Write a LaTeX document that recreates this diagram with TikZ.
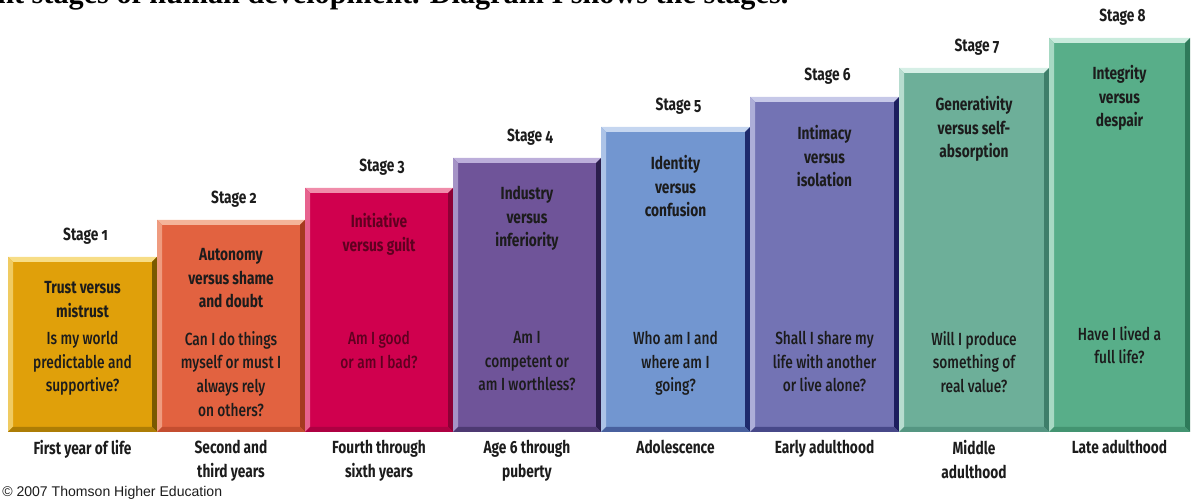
\documentclass[tikz,border=0pt]{standalone}
\usepackage{fontspec}
\setmainfont{Fira Sans}[FakeStretch=0.78, Numbers=OldStyle]
\newfontfamily\askfont{Fira Sans Medium}[FakeStretch=0.78]
\newfontfamily\introfont{Liberation Serif}
\newfontfamily\creditfont{Liberation Sans}
\usepackage{xcolor}
% bar colours: face, top/left bevel, right bevel
\definecolor{bar1}{RGB}{224, 160, 10}
\definecolor{bar1top}{RGB}{247, 221, 134}
\definecolor{bar1side}{RGB}{122, 90, 0}
\definecolor{bar2}{RGB}{226, 98, 64}
\definecolor{bar2top}{RGB}{244, 180, 154}
\definecolor{bar2side}{RGB}{165, 58, 32}
\definecolor{bar3}{RGB}{208, 0, 78}
\definecolor{bar3top}{RGB}{240, 140, 170}
\definecolor{bar3side}{RGB}{140, 0, 53}
\definecolor{bar4}{RGB}{111, 84, 153}
\definecolor{bar4top}{RGB}{188, 174, 218}
\definecolor{bar4side}{RGB}{43, 30, 76}
\definecolor{bar5}{RGB}{114, 150, 208}
\definecolor{bar5top}{RGB}{197, 214, 240}
\definecolor{bar5side}{RGB}{30, 42, 108}
\definecolor{bar6}{RGB}{115, 115, 180}
\definecolor{bar6top}{RGB}{198, 200, 232}
\definecolor{bar6side}{RGB}{28, 30, 94}
\definecolor{bar7}{RGB}{109, 175, 153}
\definecolor{bar7top}{RGB}{214, 239, 230}
\definecolor{bar7side}{RGB}{62, 126, 106}
\definecolor{bar8}{RGB}{88, 174, 137}
\definecolor{bar8top}{RGB}{200, 235, 220}
\definecolor{bar8side}{RGB}{46, 122, 90}
\definecolor{ink}{RGB}{28, 28, 28}
\colorlet{txt1}{ink}
\colorlet{txt2}{ink}
\definecolor{txt3}{RGB}{95, 0, 32}
\colorlet{txt4}{ink}
\colorlet{txt5}{ink}
\colorlet{txt6}{ink}
\colorlet{txt7}{ink}
\colorlet{txt8}{ink}

\begin{document}
\begin{tikzpicture}[x=0.025cm, y=-0.025cm,
    stagelabel/.style={font=\bfseries\fontsize{12.5}{16.8}\selectfont, text=ink, inner sep=0},
    crisis/.style={font=\bfseries\fontsize{12.5}{16.8}\selectfont, align=center, anchor=north, inner sep=0},
    question/.style={font=\askfont\fontsize{12.5}{16.8}\selectfont, align=center, anchor=north, inner sep=0},
    agelabel/.style={font=\bfseries\fontsize{12.5}{16.8}\selectfont, text=ink, align=center, anchor=north, inner sep=0}]
  \useasboundingbox (0,0) rectangle (1193,504);
  \clip (0,0) rectangle (1193,504);

  % line of text cut off by the top edge
  \node[anchor=base west, inner sep=0, font=\introfont\bfseries\fontsize{21.5}{24}\selectfont] (intro) at (-3,4)
    {nt stages of human development. Diagram I shows the stages.};

  % the eight steps
  \foreach \i/\xa/\xb/\yt/\ty/\qy/\crisis/\quest/\age in {
      1/8/157/257/288/338/{Trust versus\\mistrust}/{Is my world\\predictable and\\supportive?}/{First year of life},
      2/157/305/220/255/338/{Autonomy\\versus shame\\and doubt}/{Can I do things\\myself or must I\\always rely\\on others?}/{Second and\\third years},
      3/305/453/188/220/338/{Initiative\\versus guilt}/{Am I good\\or am I bad?}/{Fourth through\\sixth years},
      4/453/601/158/193/338/{Industry\\versus\\inferiority}/{Am I\\competent or\\am I worthless?}/{Age 6 through\\puberty},
      5/601/750/127/162/338/{Identity\\versus\\confusion}/{Who am I and\\where am I\\going?}/{Adolescence},
      6/750/899/97/132/338/{Intimacy\\versus\\isolation}/{Shall I share my\\life with another\\or live alone?}/{Early adulthood},
      7/899/1049/68/103/338/{Generativity\\versus self-\\absorption}/{Will I produce\\something of\\real value?}/{Middle\\adulthood},
      8/1049/1190/38/72/333/{Integrity\\versus\\despair}/{Have I lived a\\full life?}/{Late adulthood}} {
    % face and bevels
    \fill[bar\i] (\xa,\yt) rectangle (\xb,432);
    \fill[bar\i top] (\xa,\yt) -- (\xb,\yt) -- (\xb-5,\yt+5) -- (\xa+5,\yt+5) -- cycle;
    \fill[bar\i top!70!bar\i] (\xa,\yt) -- (\xa+5,\yt+5) -- (\xa+5,427) -- (\xa,432) -- cycle;
    \fill[bar\i side] (\xb,\yt) -- (\xb,432) -- (\xb-5,427) -- (\xb-5,\yt+5) -- cycle;
    \fill[bar\i side!50!bar\i] (\xa,432) -- (\xb,432) -- (\xb-5,427) -- (\xa+5,427) -- cycle;
    % texts
    \node[stagelabel] (s\i) at ({(\xa+\xb)/2+3},\yt-21) {Stage \i};
    \node[crisis, text=txt\i] (c\i) at ({(\xa+\xb)/2},\ty-7) {\crisis};
    \node[question, text=txt\i] (q\i) at ({(\xa+\xb)/2},\qy-7) {\quest};
    \node[agelabel] (a\i) at ({(\xa+\xb)/2},440) {\age};
  }

  \node[anchor=west, inner sep=0, font=\creditfont\fontsize{10}{12}\selectfont, text=ink] (credit) at (2,493)
    {© 2007 Thomson Higher Education};
\end{tikzpicture}
\end{document}
